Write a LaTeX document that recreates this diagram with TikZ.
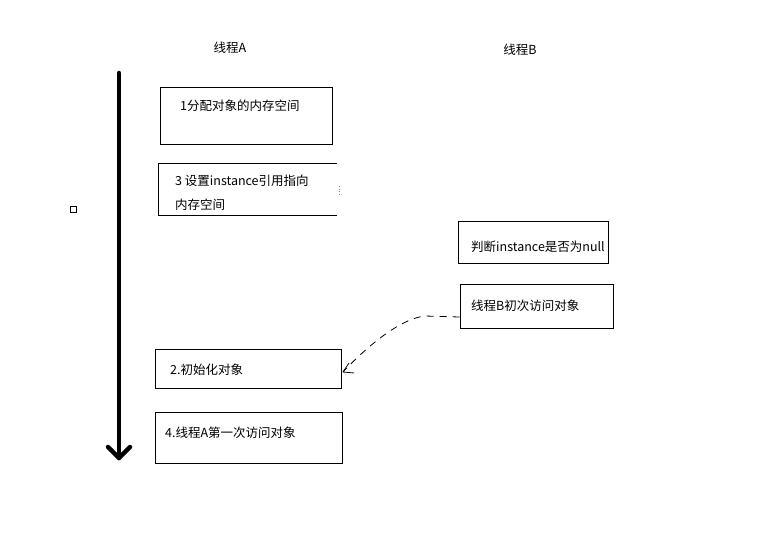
\documentclass[tikz,border=0pt]{standalone}
\usepackage{fontspec}
\setmainfont{Noto Sans CJK SC}
\usetikzlibrary{arrows.meta}
\begin{document}
\begin{tikzpicture}[x=1pt,y=-1pt,
  boxline/.style={draw=black, line width=0.9pt},
  lbl/.style={anchor=west, inner sep=0pt, font=\fontsize{12.5}{15}\selectfont},
  ttl/.style={inner sep=0pt, font=\fontsize{12.5}{15}\selectfont}]
\useasboundingbox[fill=white] (0,0) rectangle (784,536);
% titles
\node[ttl] (ta) at (230,48) {线程A};
\node[ttl] (tb) at (520,50) {线程B};
% thick time arrow
\coordinate (as) at (119,73);
\coordinate (ae) at (119,458);
\draw[line width=4.5pt, line cap=round] (as) -- (ae);
\draw[line width=4.5pt, line cap=round, line join=round] (108,447) -- (ae) -- (130,447);
% small square
\node[draw, line width=0.8pt, minimum size=6pt, inner sep=0pt] (sq) at (73,209) {};
% box 1
\node[boxline, minimum width=172pt, minimum height=57pt, inner sep=0pt] (b1) at (246,115.5) {};
\node[lbl] (t1) at (180,106) {1分配对象的内存空间};
% box 3 (right side missing)
\coordinate (b3a) at (337,163);
\coordinate (b3b) at (158,163);
\coordinate (b3c) at (158,215);
\coordinate (b3d) at (337,215);
\draw[line width=0.9pt] (b3a) -- (b3b) -- (b3c) -- (b3d);
\draw[line width=0.6pt, dotted, gray] (339,186) -- (339,196);
\node[lbl] (t3a) at (175,181) {3 设置instance引用指向};
\node[lbl] (t3b) at (175,205) {内存空间};
% judge box
\node[boxline, minimum width=150pt, minimum height=42pt, inner sep=0pt] (bj) at (533,242) {};
\node[lbl] (tj) at (471,247) {判断instance是否为null};
% thread B box
\node[boxline, minimum width=153pt, minimum height=44pt, inner sep=0pt] (bb) at (536.5,306) {};
\node[lbl] (tbb) at (471,306) {线程B初次访问对象};
% box 2
\node[boxline, minimum width=186pt, minimum height=39pt, inner sep=0pt] (b2) at (248,368.5) {};
\node[lbl] (t2) at (170,370) {2.初始化对象};
% box 4
\node[boxline, minimum width=187pt, minimum height=51pt, inner sep=0pt] (b4) at (248.5,437.5) {};
\node[lbl] (t4) at (165,433) {4.线程A第一次访问对象};
% dashed connector
\coordinate (cs) at (bb.west |- 0,317);
\coordinate (ce) at (343,372);
\draw[line width=0.8pt, dash pattern=on 7pt off 6pt] (cs) -- (425,316)
  .. controls (405,318) and (375,338) .. (ce);
\draw[line width=0.8pt] (ce) -- (349,363);
\draw[line width=0.8pt] (ce) -- (354,373);
\end{tikzpicture}
\end{document}
